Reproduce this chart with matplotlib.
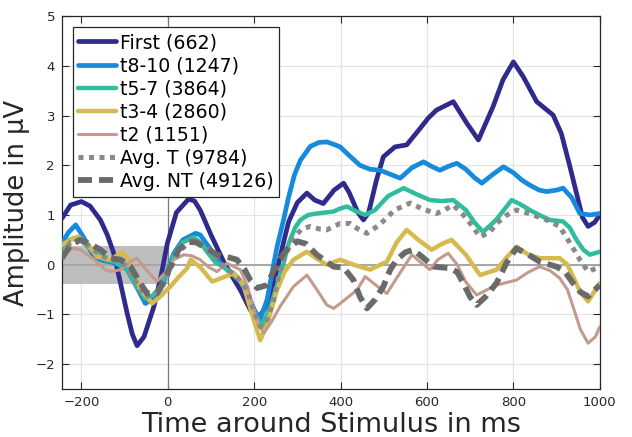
"""
ERP amplitude around stimulus onset, grouped by trial position.
"""
import matplotlib.pyplot as plt

# ---------------------------------------------------------
# Data
# ---------------------------------------------------------
first_t = [-245, -225, -200, -180, -156, -140, -125, -110, -94, -82, -71, -55, -32, -15, -1,
           20, 48, 62, 75, 100, 130, 150, 168, 191, 210, 230, 253, 268, 280, 300, 322,
           340, 360, 385, 407, 420, 440, 453, 465, 472, 483, 499, 526, 553, 584, 603,
           622, 661, 692, 719, 753, 776, 800, 823, 854, 892, 911, 931, 946, 960, 973,
           988, 1000]
first_v = [0.93, 1.2, 1.27, 1.18, 0.9, 0.6, 0.23, -0.35, -0.98, -1.4, -1.63, -1.45, -0.84, -0.2, 0.43,
           1.05, 1.32, 1.28, 1.1, 0.6, 0.05, -0.25, -0.51, -0.91, -1.08, -0.8, -0.1, 0.45, 0.87, 1.25, 1.44,
           1.3, 1.23, 1.5, 1.64, 1.45, 1.05, 0.9, 1.05, 1.3, 1.7, 2.17, 2.37, 2.41, 2.74, 2.95,
           3.11, 3.28, 2.85, 2.51, 3.18, 3.72, 4.08, 3.78, 3.28, 3.01, 2.64, 1.97, 1.44, 0.95, 0.77,
           0.85, 1.0]

t810_t = [-245, -230, -213, -195, -171, -150, -130, -110, -94, -75, -52, -35, -17, 0, 14,
          35, 64, 75, 100, 122, 140, 160, 180, 200, 214, 230, 245, 253, 268, 280, 293,
          307, 330, 350, 368, 385, 399, 422, 445, 468, 491, 515, 538, 565, 592, 610,
          630, 650, 669, 690, 710, 727, 750, 777, 800, 820, 838, 860, 877, 900, 915,
          935, 954, 977, 1000]
t810_v = [0.43, 0.65, 0.8, 0.55, 0.16, 0.08, 0.05, -0.02, -0.1, -0.4, -0.78, -0.7, -0.5, -0.1, 0.23,
          0.5, 0.63, 0.6, 0.3, 0.03, -0.12, -0.24, -0.5, -0.9, -1.11, -0.7, 0.0, 0.36, 0.9, 1.37, 1.8,
          2.1, 2.38, 2.46, 2.47, 2.42, 2.37, 2.18, 2.0, 1.92, 1.9, 1.82, 1.74, 1.95, 2.07, 1.98,
          1.9, 1.98, 2.04, 1.92, 1.75, 1.64, 1.8, 1.97, 1.85, 1.7, 1.6, 1.5, 1.47, 1.5, 1.54,
          1.35, 1.03, 1.0, 1.03]

t57_t = [-245, -228, -210, -190, -170, -145, -120, -95, -75, -52, -35, -17, 0, 15, 35,
         60, 75, 91, 110, 130, 150, 170, 190, 205, 218, 235, 250, 260, 280, 295, 307,
         325, 345, 365, 384, 399, 415, 435, 457, 480, 510, 546, 575, 607, 635, 661,
         690, 710, 730, 760, 796, 815, 838, 860, 884, 915, 930, 946, 962, 977, 1000]
t57_v = [0.35, 0.5, 0.55, 0.4, 0.25, 0.1, 0.05, -0.1, -0.4, -0.68, -0.62, -0.45, -0.1, 0.2, 0.45,
         0.55, 0.45, 0.26, 0.05, -0.05, -0.2, -0.35, -0.7, -1.05, -1.25, -0.9, -0.5, -0.24, 0.43, 0.75, 0.9,
         1.0, 1.03, 1.05, 1.07, 1.13, 1.17, 1.08, 1.0, 1.1, 1.38, 1.54, 1.42, 1.3, 1.28, 1.3,
         1.1, 0.85, 0.66, 0.9, 1.3, 1.22, 1.1, 1.0, 0.9, 0.87, 0.75, 0.5, 0.3, 0.2, 0.26]

t34_t = [-245, -225, -206, -185, -163, -132, -105, -86, -63, -36, -15, 6, 25, 45, 53,
         75, 103, 130, 153, 175, 195, 214, 230, 253, 270, 291, 322, 345, 368, 385,
         399, 430, 468, 507, 530, 553, 580, 611, 635, 657, 690, 723, 761, 785, 807,
         835, 861, 907, 925, 938, 955, 973, 1000]
t34_v = [0.4, 0.5, 0.56, 0.4, 0.16, 0.1, 0.26, 0.06, -0.5, -0.78, -0.62, -0.44, -0.25, -0.07, 0.1,
         -0.05, -0.34, -0.25, -0.17, -0.4, -1.0, -1.52, -1.2, -0.51, -0.15, 0.1, 0.26, 0.12, 0.0, 0.05,
         0.1, 0.0, -0.1, 0.06, 0.45, 0.7, 0.5, 0.3, 0.42, 0.5, 0.2, -0.21, -0.1, 0.15, 0.36,
         0.2, 0.13, 0.13, 0.0, -0.24, -0.55, -0.74, -0.37]

t2_t = [-245, -220, -202, -170, -145, -132, -109, -90, -71, -50, -25, -5, 14, 37, 55,
        75, 95, 114, 137, 155, 168, 185, 205, 222, 240, 260, 291, 322, 345, 368, 384,
        399, 438, 457, 480, 507, 535, 565, 585, 607, 625, 649, 670, 690, 715, 740,
        761, 807, 835, 861, 885, 907, 925, 938, 955, 973, 990, 1000]
t2_v = [0.2, 0.33, 0.3, 0.1, -0.1, -0.14, -0.1, 0.05, 0.13, -0.1, -0.34, -0.15, 0.1, 0.2, 0.18,
        0.1, -0.05, -0.14, 0.03, -0.05, -0.1, -0.45, -1.1, -1.38, -1.15, -0.84, -0.44, -0.21, -0.5, -0.81, -0.88,
        -0.78, -0.51, -0.24, -0.4, -0.58, -0.2, 0.2, 0.05, -0.1, 0.1, 0.23, 0.0, -0.35, -0.61, -0.5,
        -0.41, -0.31, -0.15, -0.04, -0.12, -0.27, -0.5, -0.84, -1.3, -1.58, -1.45, -1.25]

avg_t_t = [-245, -225, -205, -185, -165, -140, -120, -100, -80, -55, -35, -15, 5, 25, 55,
           84, 105, 130, 155, 183, 200, 214, 230, 245, 260, 275, 291, 310, 330, 350,
           368, 399, 422, 440, 461, 490, 525, 561, 590, 622, 640, 661, 690, 723, 745,
           761, 785, 807, 840, 877, 907, 930, 954, 973, 1000]
avg_t_v = [0.2, 0.45, 0.5, 0.4, 0.25, 0.12, 0.08, 0.0, -0.25, -0.65, -0.6, -0.5, -0.1, 0.25, 0.5,
           0.4, 0.2, -0.04, -0.2, -0.5, -0.95, -1.25, -1.1, -0.71, -0.1, 0.25, 0.53, 0.72, 0.77, 0.72,
           0.7, 0.83, 0.83, 0.72, 0.63, 0.8, 1.1, 1.24, 1.12, 1.03, 1.1, 1.2, 0.95, 0.56, 0.65,
           0.83, 1.0, 1.1, 1.02, 0.9, 0.77, 0.45, 0.1, -0.14, -0.04]

avg_nt_t = [-245, -225, -202, -180, -156, -132, -109, -86, -65, -48, -25, -10, 6, 25, 45,
            65, 84, 114, 140, 160, 178, 191, 207, 230, 253, 275, 300, 320, 345, 384,
            407, 430, 445, 461, 480, 499, 515, 530, 550, 568, 590, 615, 653, 670, 684,
            700, 715, 735, 761, 785, 807, 835, 861, 900, 920, 938, 955, 973, 1000]
avg_nt_v = [0.13, 0.4, 0.5, 0.42, 0.3, 0.13, 0.1, -0.04, -0.35, -0.58, -0.58, -0.35, -0.04, 0.3, 0.46,
            0.45, 0.36, 0.2, 0.15, 0.1, -0.1, -0.31, -0.47, -0.41, 0.03, 0.3, 0.47, 0.42, 0.2, -0.04,
            -0.06, -0.31, -0.65, -0.88, -0.7, -0.44, -0.1, 0.1, 0.25, 0.3, 0.15, -0.04, -0.07, -0.15, -0.37,
            -0.65, -0.81, -0.65, -0.37, 0.05, 0.33, 0.2, 0.06, -0.04, -0.15, -0.37, -0.55, -0.64, -0.41]

labels = ["First (662)", "t8-10 (1247)", "t5-7 (3864)", "t3-4 (2860)",
          "t2 (1151)", "Avg. T (9784)", "Avg. NT (49126)"]

baseline_t = [-245, 0]
baseline_sd = 0.38

x_ticks = [-200, 0, 200, 400, 600, 800, 1000]
y_ticks = [-2, -1, 0, 1, 2, 3, 4, 5]


def main():
    plt.rcParams.update({
        'font.family': 'DejaVu Sans',
        'lines.solid_capstyle': 'round',
        'lines.solid_joinstyle': 'round',
    })

    fig = plt.figure(figsize=(6.32, 4.37), dpi=100)
    ax = fig.add_axes([0.098, 0.11, 0.851, 0.853])

    # baseline window and zero lines
    ax.fill_between(baseline_t, -baseline_sd, baseline_sd, color="#BEBEBE",
                    linewidth=0, zorder=1)
    ax.axhline(0, color="#A6A6A6", linewidth=1.4, zorder=1.5)
    ax.axvline(0, color="#7A7A7A", linewidth=0.9, zorder=1.5)

    series = [
        (first_t, first_v, dict(color="#2F2A8B", lw=3.4, ls="-")),
        (t810_t, t810_v, dict(color="#168BDB", lw=3.4, ls="-")),
        (t57_t, t57_v, dict(color="#2FBD9E", lw=3.2, ls="-")),
        (t34_t, t34_v, dict(color="#D6BA4E", lw=3.2, ls="-")),
        (t2_t, t2_v, dict(color="#C49A8C", lw=2.2, ls="-")),
        (avg_t_t, avg_t_v, dict(color="#8A8A8A", lw=3.6, ls=(0, (1, 1.1)))),
        (avg_nt_t, avg_nt_v, dict(color="#6A6A6A", lw=4.2, ls=(0, (2.4, 1.2)))),
    ]
    for (t, v, style), label in zip(series, labels):
        ax.plot(t, v, label=label, zorder=3, dash_capstyle="butt", **style)

    ax.set_xlim(-245, 1000)
    ax.set_ylim(-2.5, 5)
    ax.set_xticks(x_ticks)
    ax.set_yticks(y_ticks)
    ax.grid(True, color="#E3E3E3", linewidth=0.8, zorder=0)
    ax.set_axisbelow(True)

    ax.tick_params(direction="in", length=5, width=0.8, colors="#262626",
                   labelsize=9.5, top=True, right=True, pad=5)
    for spine in ax.spines.values():
        spine.set_color("#262626")
        spine.set_linewidth(0.9)

    ax.set_xlabel("Time around Stimulus in ms", fontsize=19.5, color="#262626", labelpad=2)
    ax.set_ylabel("Amplitude in µV", fontsize=18.5, color="#262626", labelpad=4)

    leg = ax.legend(loc="upper left", bbox_to_anchor=(0.02, 0.97), fontsize=13.6,
                    frameon=True, fancybox=False, framealpha=1, edgecolor="#262626",
                    borderaxespad=0, handlelength=2.0, handletextpad=0.2,
                    labelspacing=0.22, borderpad=0.3)
    leg.get_frame().set_linewidth(0.9)

    fig.savefig("out.png", dpi=100)
    plt.close(fig)


if __name__ == "__main__":
    main()
